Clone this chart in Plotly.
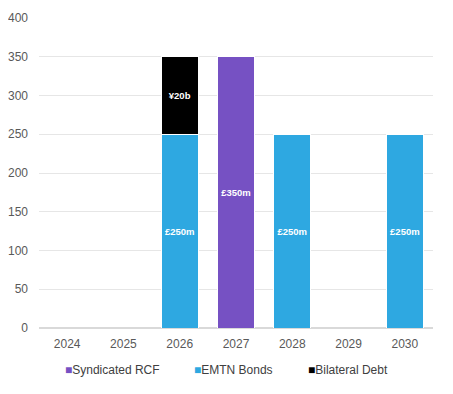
import plotly.graph_objects as go

years = ["2024", "2025", "2026", "2027", "2028", "2029", "2030"]
syndicated_rcf = [None, None, None, 350, None, None, None]
emtn_bonds = [None, None, 250, None, 250, None, 250]
bilateral_debt = [None, None, 100, None, None, None, None]

rcf_labels = ["", "", "", "£350m", "", "", ""]
emtn_labels = ["", "", "£250m", "", "£250m", "", "£250m"]
bilateral_labels = ["", "", "¥20b", "", "", "", ""]

FONT = "Arial, Liberation Sans, sans-serif"

OFF = 8  # page body margin
W, H = 453 - OFF, 394 - OFF
ML, MR, MT, MB = 39 - OFF, 20, 18 - OFF, 66
PW, PH = W - ML - MR, H - MT - MB

fig = go.Figure()
series = [
    ("Syndicated RCF", syndicated_rcf, rcf_labels, "#7651C3"),
    ("EMTN Bonds", emtn_bonds, emtn_labels, "#2EA8E1"),
    ("Bilateral Debt", bilateral_debt, bilateral_labels, "#000000"),
]
for name, vals, labels, color in series:
    fig.add_trace(go.Bar(
        name=name, x=years, y=vals, text=labels,
        textposition="inside", insidetextanchor="middle",
        textangle=0,
        textfont=dict(family=FONT, size=9.5, color="white", weight="bold"),
        marker=dict(color=color, line=dict(color="white", width=1)),
        hoverinfo="skip", showlegend=False,
    ))

# legend drawn as text entries below the axis (page px)
legend_x_px = [63, 192, 306]
legend_y_px = 370
for (name, _, _, color), lx in zip(series, legend_x_px):
    fig.add_annotation(
        xref="paper", yref="paper",
        x=(lx - OFF - ML) / PW, y=(MT + PH - (legend_y_px - OFF)) / PH,
        xanchor="left", yanchor="middle", showarrow=False,
        text=f'<span style="color:{color}">■</span>{name}',
        font=dict(family=FONT, size=12, color="#404040"),
    )

fig.update_layout(
    barmode="stack",
    bargap=0.34,
    width=W, height=H,
    margin=dict(l=ML, r=MR, t=MT, b=MB),
    paper_bgcolor="white", plot_bgcolor="white",
    font=dict(family=FONT, size=12, color="#595959"),
    showlegend=False,
    uniformtext=dict(minsize=8, mode="show"),
)
fig.update_yaxes(
    range=[0, 400], dtick=50, showgrid=True, gridcolor="#E6E6E6", gridwidth=1,
    zeroline=True, zerolinecolor="#D9D9D9", ticks="",
    tickfont=dict(size=12, color="#595959"),
    ticklabelstandoff=10, automargin=False,
)
fig.update_xaxes(
    showline=False, ticks="", tickfont=dict(size=12, color="#595959"),
    ticklabelstandoff=7, automargin=False,
)
fig.write_html("out.html")
